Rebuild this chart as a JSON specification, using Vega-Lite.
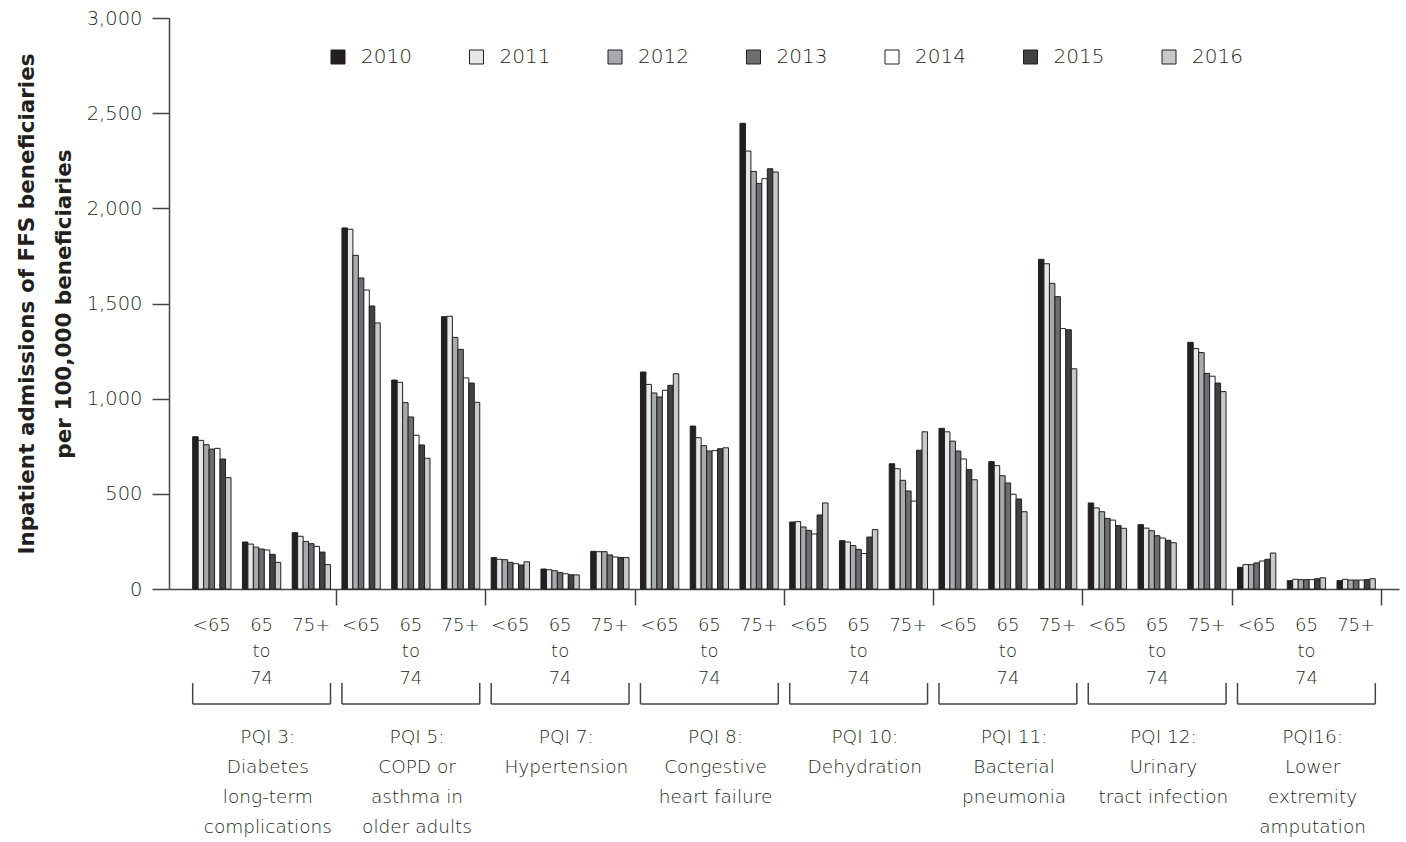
{
  "$schema": "https://vega.github.io/schema/vega-lite/v6.json",
  "width": 1230,
  "height": 571,
  "autosize": {"type": "none"},
  "padding": {"left": 169, "top": 18, "right": 7, "bottom": 253},
  "background": "white",
  "config": {"view": {"stroke": null}, "font": "DejaVu Sans"},
  "datasets": {
    "bars": [
      {"group": "PQI 3", "age": "<65", "year": "2010", "value": 800},
      {"group": "PQI 3", "age": "<65", "year": "2011", "value": 781},
      {"group": "PQI 3", "age": "<65", "year": "2012", "value": 758},
      {"group": "PQI 3", "age": "<65", "year": "2013", "value": 735},
      {"group": "PQI 3", "age": "<65", "year": "2014", "value": 739},
      {"group": "PQI 3", "age": "<65", "year": "2015", "value": 683},
      {"group": "PQI 3", "age": "<65", "year": "2016", "value": 585},
      {"group": "PQI 3", "age": "65 to 74", "year": "2010", "value": 247},
      {"group": "PQI 3", "age": "65 to 74", "year": "2011", "value": 236},
      {"group": "PQI 3", "age": "65 to 74", "year": "2012", "value": 220},
      {"group": "PQI 3", "age": "65 to 74", "year": "2013", "value": 210},
      {"group": "PQI 3", "age": "65 to 74", "year": "2014", "value": 205},
      {"group": "PQI 3", "age": "65 to 74", "year": "2015", "value": 182},
      {"group": "PQI 3", "age": "65 to 74", "year": "2016", "value": 140},
      {"group": "PQI 3", "age": "75+", "year": "2010", "value": 296},
      {"group": "PQI 3", "age": "75+", "year": "2011", "value": 277},
      {"group": "PQI 3", "age": "75+", "year": "2012", "value": 250},
      {"group": "PQI 3", "age": "75+", "year": "2013", "value": 238},
      {"group": "PQI 3", "age": "75+", "year": "2014", "value": 224},
      {"group": "PQI 3", "age": "75+", "year": "2015", "value": 194},
      {"group": "PQI 3", "age": "75+", "year": "2016", "value": 128},
      {"group": "PQI 5", "age": "<65", "year": "2010", "value": 1897},
      {"group": "PQI 5", "age": "<65", "year": "2011", "value": 1890},
      {"group": "PQI 5", "age": "<65", "year": "2012", "value": 1753},
      {"group": "PQI 5", "age": "<65", "year": "2013", "value": 1634},
      {"group": "PQI 5", "age": "<65", "year": "2014", "value": 1571},
      {"group": "PQI 5", "age": "<65", "year": "2015", "value": 1487},
      {"group": "PQI 5", "age": "<65", "year": "2016", "value": 1398},
      {"group": "PQI 5", "age": "65 to 74", "year": "2010", "value": 1098},
      {"group": "PQI 5", "age": "65 to 74", "year": "2011", "value": 1086},
      {"group": "PQI 5", "age": "65 to 74", "year": "2012", "value": 979},
      {"group": "PQI 5", "age": "65 to 74", "year": "2013", "value": 904},
      {"group": "PQI 5", "age": "65 to 74", "year": "2014", "value": 808},
      {"group": "PQI 5", "age": "65 to 74", "year": "2015", "value": 757},
      {"group": "PQI 5", "age": "65 to 74", "year": "2016", "value": 687},
      {"group": "PQI 5", "age": "75+", "year": "2010", "value": 1431},
      {"group": "PQI 5", "age": "75+", "year": "2011", "value": 1433},
      {"group": "PQI 5", "age": "75+", "year": "2012", "value": 1322},
      {"group": "PQI 5", "age": "75+", "year": "2013", "value": 1259},
      {"group": "PQI 5", "age": "75+", "year": "2014", "value": 1109},
      {"group": "PQI 5", "age": "75+", "year": "2015", "value": 1082},
      {"group": "PQI 5", "age": "75+", "year": "2016", "value": 981},
      {"group": "PQI 7", "age": "<65", "year": "2010", "value": 165},
      {"group": "PQI 7", "age": "<65", "year": "2011", "value": 156},
      {"group": "PQI 7", "age": "<65", "year": "2012", "value": 154},
      {"group": "PQI 7", "age": "<65", "year": "2013", "value": 140},
      {"group": "PQI 7", "age": "<65", "year": "2014", "value": 133},
      {"group": "PQI 7", "age": "<65", "year": "2015", "value": 126},
      {"group": "PQI 7", "age": "<65", "year": "2016", "value": 143},
      {"group": "PQI 7", "age": "65 to 74", "year": "2010", "value": 105},
      {"group": "PQI 7", "age": "65 to 74", "year": "2011", "value": 101},
      {"group": "PQI 7", "age": "65 to 74", "year": "2012", "value": 96},
      {"group": "PQI 7", "age": "65 to 74", "year": "2013", "value": 86},
      {"group": "PQI 7", "age": "65 to 74", "year": "2014", "value": 80},
      {"group": "PQI 7", "age": "65 to 74", "year": "2015", "value": 75},
      {"group": "PQI 7", "age": "65 to 74", "year": "2016", "value": 74},
      {"group": "PQI 7", "age": "75+", "year": "2010", "value": 198},
      {"group": "PQI 7", "age": "75+", "year": "2011", "value": 196},
      {"group": "PQI 7", "age": "75+", "year": "2012", "value": 196},
      {"group": "PQI 7", "age": "75+", "year": "2013", "value": 179},
      {"group": "PQI 7", "age": "75+", "year": "2014", "value": 168},
      {"group": "PQI 7", "age": "75+", "year": "2015", "value": 166},
      {"group": "PQI 7", "age": "75+", "year": "2016", "value": 165},
      {"group": "PQI 8", "age": "<65", "year": "2010", "value": 1140},
      {"group": "PQI 8", "age": "<65", "year": "2011", "value": 1075},
      {"group": "PQI 8", "age": "<65", "year": "2012", "value": 1030},
      {"group": "PQI 8", "age": "<65", "year": "2013", "value": 1009},
      {"group": "PQI 8", "age": "<65", "year": "2014", "value": 1044},
      {"group": "PQI 8", "age": "<65", "year": "2015", "value": 1070},
      {"group": "PQI 8", "age": "<65", "year": "2016", "value": 1131},
      {"group": "PQI 8", "age": "65 to 74", "year": "2010", "value": 856},
      {"group": "PQI 8", "age": "65 to 74", "year": "2011", "value": 795},
      {"group": "PQI 8", "age": "65 to 74", "year": "2012", "value": 753},
      {"group": "PQI 8", "age": "65 to 74", "year": "2013", "value": 725},
      {"group": "PQI 8", "age": "65 to 74", "year": "2014", "value": 727},
      {"group": "PQI 8", "age": "65 to 74", "year": "2015", "value": 737},
      {"group": "PQI 8", "age": "65 to 74", "year": "2016", "value": 742},
      {"group": "PQI 8", "age": "75+", "year": "2010", "value": 2447},
      {"group": "PQI 8", "age": "75+", "year": "2011", "value": 2301},
      {"group": "PQI 8", "age": "75+", "year": "2012", "value": 2194},
      {"group": "PQI 8", "age": "75+", "year": "2013", "value": 2131},
      {"group": "PQI 8", "age": "75+", "year": "2014", "value": 2156},
      {"group": "PQI 8", "age": "75+", "year": "2015", "value": 2208},
      {"group": "PQI 8", "age": "75+", "year": "2016", "value": 2191},
      {"group": "PQI 10", "age": "<65", "year": "2010", "value": 352},
      {"group": "PQI 10", "age": "<65", "year": "2011", "value": 354},
      {"group": "PQI 10", "age": "<65", "year": "2012", "value": 326},
      {"group": "PQI 10", "age": "<65", "year": "2013", "value": 308},
      {"group": "PQI 10", "age": "<65", "year": "2014", "value": 289},
      {"group": "PQI 10", "age": "<65", "year": "2015", "value": 389},
      {"group": "PQI 10", "age": "<65", "year": "2016", "value": 452},
      {"group": "PQI 10", "age": "65 to 74", "year": "2010", "value": 254},
      {"group": "PQI 10", "age": "65 to 74", "year": "2011", "value": 247},
      {"group": "PQI 10", "age": "65 to 74", "year": "2012", "value": 228},
      {"group": "PQI 10", "age": "65 to 74", "year": "2013", "value": 208},
      {"group": "PQI 10", "age": "65 to 74", "year": "2014", "value": 186},
      {"group": "PQI 10", "age": "65 to 74", "year": "2015", "value": 273},
      {"group": "PQI 10", "age": "65 to 74", "year": "2016", "value": 312},
      {"group": "PQI 10", "age": "75+", "year": "2010", "value": 658},
      {"group": "PQI 10", "age": "75+", "year": "2011", "value": 632},
      {"group": "PQI 10", "age": "75+", "year": "2012", "value": 571},
      {"group": "PQI 10", "age": "75+", "year": "2013", "value": 515},
      {"group": "PQI 10", "age": "75+", "year": "2014", "value": 462},
      {"group": "PQI 10", "age": "75+", "year": "2015", "value": 729},
      {"group": "PQI 10", "age": "75+", "year": "2016", "value": 826},
      {"group": "PQI 11", "age": "<65", "year": "2010", "value": 844},
      {"group": "PQI 11", "age": "<65", "year": "2011", "value": 826},
      {"group": "PQI 11", "age": "<65", "year": "2012", "value": 777},
      {"group": "PQI 11", "age": "<65", "year": "2013", "value": 725},
      {"group": "PQI 11", "age": "<65", "year": "2014", "value": 683},
      {"group": "PQI 11", "age": "<65", "year": "2015", "value": 627},
      {"group": "PQI 11", "age": "<65", "year": "2016", "value": 574},
      {"group": "PQI 11", "age": "65 to 74", "year": "2010", "value": 669},
      {"group": "PQI 11", "age": "65 to 74", "year": "2011", "value": 648},
      {"group": "PQI 11", "age": "65 to 74", "year": "2012", "value": 595},
      {"group": "PQI 11", "age": "65 to 74", "year": "2013", "value": 557},
      {"group": "PQI 11", "age": "65 to 74", "year": "2014", "value": 498},
      {"group": "PQI 11", "age": "65 to 74", "year": "2015", "value": 473},
      {"group": "PQI 11", "age": "65 to 74", "year": "2016", "value": 406},
      {"group": "PQI 11", "age": "75+", "year": "2010", "value": 1732},
      {"group": "PQI 11", "age": "75+", "year": "2011", "value": 1709},
      {"group": "PQI 11", "age": "75+", "year": "2012", "value": 1606},
      {"group": "PQI 11", "age": "75+", "year": "2013", "value": 1536},
      {"group": "PQI 11", "age": "75+", "year": "2014", "value": 1368},
      {"group": "PQI 11", "age": "75+", "year": "2015", "value": 1362},
      {"group": "PQI 11", "age": "75+", "year": "2016", "value": 1157},
      {"group": "PQI 12", "age": "<65", "year": "2010", "value": 452},
      {"group": "PQI 12", "age": "<65", "year": "2011", "value": 426},
      {"group": "PQI 12", "age": "<65", "year": "2012", "value": 406},
      {"group": "PQI 12", "age": "<65", "year": "2013", "value": 371},
      {"group": "PQI 12", "age": "<65", "year": "2014", "value": 362},
      {"group": "PQI 12", "age": "<65", "year": "2015", "value": 333},
      {"group": "PQI 12", "age": "<65", "year": "2016", "value": 319},
      {"group": "PQI 12", "age": "65 to 74", "year": "2010", "value": 338},
      {"group": "PQI 12", "age": "65 to 74", "year": "2011", "value": 320},
      {"group": "PQI 12", "age": "65 to 74", "year": "2012", "value": 306},
      {"group": "PQI 12", "age": "65 to 74", "year": "2013", "value": 280},
      {"group": "PQI 12", "age": "65 to 74", "year": "2014", "value": 268},
      {"group": "PQI 12", "age": "65 to 74", "year": "2015", "value": 256},
      {"group": "PQI 12", "age": "65 to 74", "year": "2016", "value": 243},
      {"group": "PQI 12", "age": "75+", "year": "2010", "value": 1296},
      {"group": "PQI 12", "age": "75+", "year": "2011", "value": 1263},
      {"group": "PQI 12", "age": "75+", "year": "2012", "value": 1242},
      {"group": "PQI 12", "age": "75+", "year": "2013", "value": 1133},
      {"group": "PQI 12", "age": "75+", "year": "2014", "value": 1118},
      {"group": "PQI 12", "age": "75+", "year": "2015", "value": 1082},
      {"group": "PQI 12", "age": "75+", "year": "2016", "value": 1037},
      {"group": "PQI 16", "age": "<65", "year": "2010", "value": 114},
      {"group": "PQI 16", "age": "<65", "year": "2011", "value": 128},
      {"group": "PQI 16", "age": "<65", "year": "2012", "value": 128},
      {"group": "PQI 16", "age": "<65", "year": "2013", "value": 137},
      {"group": "PQI 16", "age": "<65", "year": "2014", "value": 147},
      {"group": "PQI 16", "age": "<65", "year": "2015", "value": 156},
      {"group": "PQI 16", "age": "<65", "year": "2016", "value": 189},
      {"group": "PQI 16", "age": "65 to 74", "year": "2010", "value": 44},
      {"group": "PQI 16", "age": "65 to 74", "year": "2011", "value": 51},
      {"group": "PQI 16", "age": "65 to 74", "year": "2012", "value": 49},
      {"group": "PQI 16", "age": "65 to 74", "year": "2013", "value": 49},
      {"group": "PQI 16", "age": "65 to 74", "year": "2014", "value": 49},
      {"group": "PQI 16", "age": "65 to 74", "year": "2015", "value": 54},
      {"group": "PQI 16", "age": "65 to 74", "year": "2016", "value": 59},
      {"group": "PQI 16", "age": "75+", "year": "2010", "value": 44},
      {"group": "PQI 16", "age": "75+", "year": "2011", "value": 51},
      {"group": "PQI 16", "age": "75+", "year": "2012", "value": 47},
      {"group": "PQI 16", "age": "75+", "year": "2013", "value": 47},
      {"group": "PQI 16", "age": "75+", "year": "2014", "value": 47},
      {"group": "PQI 16", "age": "75+", "year": "2015", "value": 49},
      {"group": "PQI 16", "age": "75+", "year": "2016", "value": 54}
    ],
    "groups": [
      {"label": "PQI 3:|Diabetes|long-term|complications"},
      {"label": "PQI 5:|COPD or|asthma in|older adults"},
      {"label": "PQI 7:|Hypertension"},
      {"label": "PQI 8:|Congestive|heart failure"},
      {"label": "PQI 10:|Dehydration"},
      {"label": "PQI 11:|Bacterial|pneumonia"},
      {"label": "PQI 12:|Urinary|tract infection"},
      {"label": "PQI16:|Lower|extremity|amputation"}
    ]
  },
  "layer": [
    {
      "data": {"name": "bars"},
      "transform": [{"calculate": "datum.group + '|' + datum.age", "as": "cluster"}],
      "mark": {"type": "bar", "stroke": "#231f20", "strokeWidth": 1},
      "encoding": {
        "x": {
          "field": "cluster", "type": "nominal", "sort": null,
          "scale": {"paddingInner": 0.23, "paddingOuter": 0.476},
          "axis": {
            "orient": "bottom", "title": null, "ticks": false, "tickSize": 0,
            "domain": true, "domainColor": "#444", "domainWidth": 1.5,
            "labelAngle": 0,
            "labelExpr": "split(datum.value, '|')[1] == '65 to 74' ? ['65', 'to', '74'] : split(datum.value, '|')[1]",
            "labelFont": "DejaVu Sans", "labelFontSize": 18, "labelFontWeight": 200, "labelLineHeight": 26.7,
            "labelPadding": 27, "labelColor": "#231f20"
          }
        },
        "xOffset": {"field": "year", "type": "nominal", "scale": {"paddingInner": 0, "paddingOuter": 0}},
        "y": {
          "field": "value", "type": "quantitative",
          "scale": {"domain": [0, 3000], "nice": false},
          "axis": {
            "values": [0, 500, 1000, 1500, 2000, 2500, 3000],
            "labelExpr": "format(datum.value, ',')",
            "grid": false, "tickSize": 17, "tickColor": "#444", "tickWidth": 1.5,
            "domainColor": "#444", "domainWidth": 1.5,
            "labelFont": "DejaVu Sans", "labelFontSize": 19.5, "labelFontWeight": 200, "labelPadding": 10, "labelColor": "#231f20",
            "title": ["Inpatient admissions of FFS beneficiaries", "per 100,000 beneficiaries"],
            "titleFont": "DejaVu Sans", "titleFontSize": 21.5, "titleFontWeight": "bold",
            "titleColor": "#231f20", "titleLineHeight": 37, "titlePadding": 11
          }
        },
        "color": {
          "field": "year", "type": "nominal",
          "scale": {
            "domain": ["2010", "2011", "2012", "2013", "2014", "2015", "2016"],
            "range": ["#231f20", "#e6e7e8", "#a7a9ac", "#6d6e71", "#ffffff", "#414042", "#c7c8ca"]
          },
          "legend": {
            "orient": "none", "legendX": 159, "legendY": 29, "direction": "horizontal",
            "columns": 7, "gridAlign": "all", "title": null,
            "symbolType": "square", "symbolSize": 196, "symbolStrokeColor": "#231f20",
            "symbolStrokeWidth": 1, "symbolOpacity": 1,
            "labelFont": "DejaVu Sans", "labelFontSize": 20, "labelFontWeight": 200, "labelOffset": 13,
            "labelColor": "#231f20", "columnPadding": 54.5
          }
        }
      }
    },
    {
      "data": {"name": "groups"},
      "layer": [
        {
          "mark": {"type": "bar", "fillOpacity": 0, "stroke": "#444", "strokeWidth": 1.5},
          "encoding": {
            "x": {
              "field": "label", "type": "nominal", "sort": null,
              "scale": {"paddingInner": 0.0767, "paddingOuter": 0.1587},
              "axis": {
                "orient": "bottom", "title": null, "domain": false,
                "bandPosition": 1, "tickOffset": 5.7, "tickSize": 16,
                "tickColor": "#444", "tickWidth": 1.5, "labelAngle": 0,
                "labelExpr": "split(datum.value, '|')",
                "labelFont": "DejaVu Sans", "labelFontSize": 18.5, "labelFontWeight": 200, "labelLineHeight": 30,
                "labelPadding": 122, "labelColor": "#231f20"
              }
            },
            "y": {"datum": -604, "type": "quantitative", "scale": {"domain": [0, 3000], "nice": false}, "axis": null},
            "y2": {"datum": -604}
          }
        },
        {
          "mark": {"type": "rule", "stroke": "#444", "strokeWidth": 1.5},
          "encoding": {
            "x": {"field": "label", "type": "nominal", "sort": null, "bandPosition": 0},
            "y": {"datum": -494, "type": "quantitative", "axis": null},
            "y2": {"datum": -604}
          }
        },
        {
          "mark": {"type": "rule", "stroke": "#444", "strokeWidth": 1.5},
          "encoding": {
            "x": {"field": "label", "type": "nominal", "sort": null, "bandPosition": 1},
            "y": {"datum": -494, "type": "quantitative", "axis": null},
            "y2": {"datum": -604}
          }
        }
      ]
    }
  ],
  "resolve": {"scale": {"x": "independent", "y": "independent"}, "axis": {"x": "independent", "y": "independent"}}
}
